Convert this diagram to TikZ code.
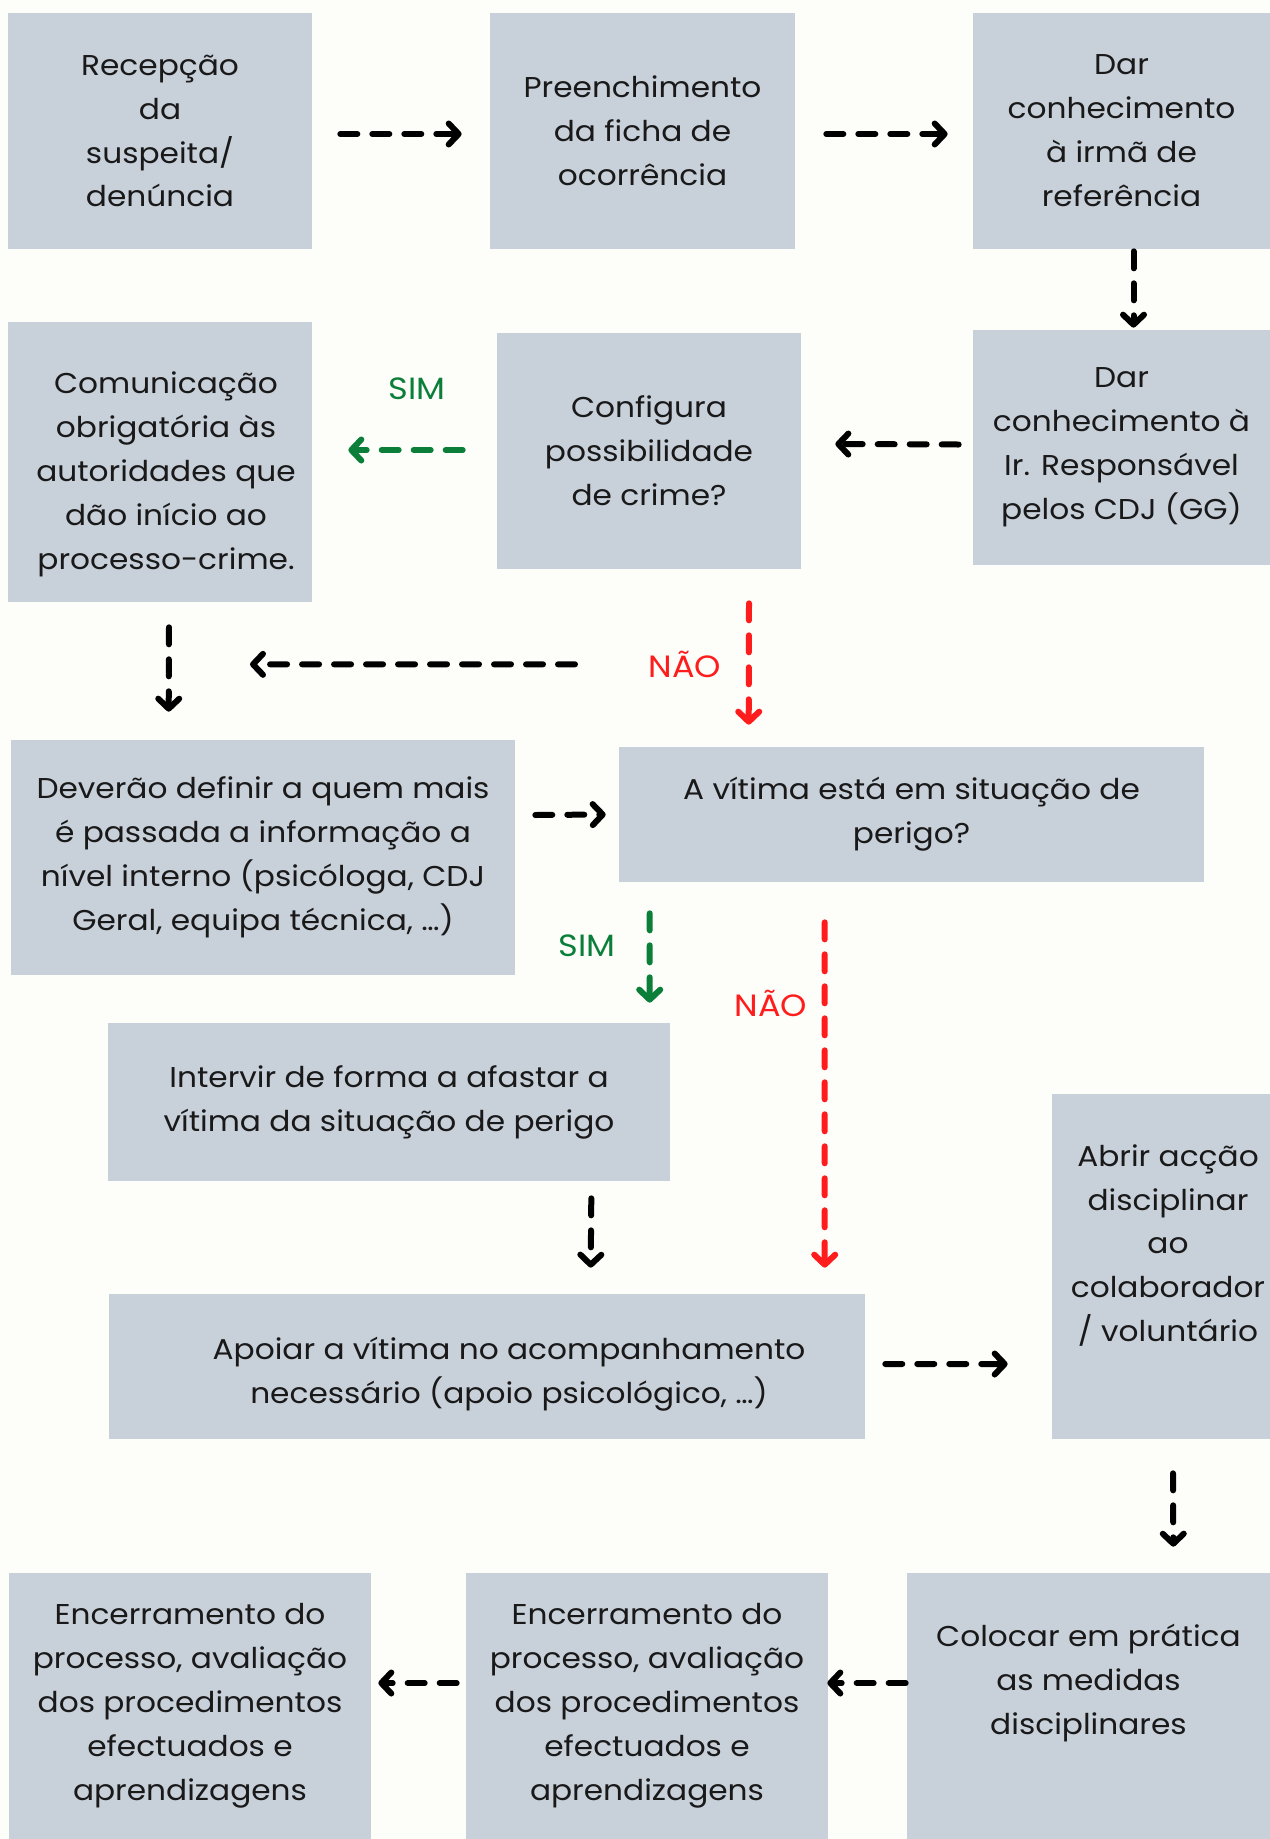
\documentclass[tikz,border=0pt]{standalone}
\usepackage{fontspec}
\setmainfont{Poppins}[FakeStretch=1.09]
\usetikzlibrary{calc}
\usetikzlibrary{arrows.meta}
\usetikzlibrary{positioning}
\definecolor{boxfill}{HTML}{C8D0DA}
\definecolor{paper}{HTML}{FDFDF9}
\definecolor{simgreen}{HTML}{0B7F3A}
\definecolor{naored}{HTML}{FF1C1C}
\tikzset{block/.style={rectangle, fill=boxfill, text=black!90, align=center, inner sep=0pt, font=\fontsize{16.3}{25}\selectfont}}
\tikzset{blocktext/.style={text=black!90, align=center, inner sep=0pt, font=\fontsize{16.3}{25}\selectfont}}
\tikzset{connect/.style={draw, line width=0.12cm, line cap=round, dash pattern=on 0.34cm off 0.3cm, >={Straight Barb[length=0.2cm, width=0.42cm, line cap=round, line join=round]}}}
\tikzset{answer/.style={font=\fontsize{17.5}{25}\selectfont, inner sep=0pt}}

\begin{document}
\begin{tikzpicture}[x=0.02cm,y=-0.02cm]
\fill[paper] (0,0) rectangle (1270,1839);
\useasboundingbox (0,0) rectangle (1270,1839);
% first row
\node[block,minimum width=6.08cm,minimum height=4.72cm] (recep) at (160,131) {Recepção\\da\\suspeita/\\denúncia};
\node[block,minimum width=6.1cm,minimum height=4.72cm] (preench) at (642.5,131) {Preenchimento\\da ficha de\\ocorrência};
\node[block,minimum width=5.94cm,minimum height=4.72cm] (darref) at (1121.5,131) {Dar\\conhecimento\\à irmã de\\referência};
% second row
\node[block,minimum width=5.94cm,minimum height=4.7cm] (dargg) at (1121.5,447.5) {Dar\\conhecimento à\\Ir. Responsável\\pelos CDJ (GG)};
\node[block,minimum width=6.08cm,minimum height=4.72cm] (config) at (649,451) {Configura\\possibilidade\\de crime?};
\node[block,minimum width=6.08cm,minimum height=5.6cm] (comun) at (160,462) {};
\node[blocktext] (comuntext) at ($(comun.center)+(6,12)$) {Comunicação\\obrigatória às\\autoridades que\\dão início ao\\processo-crime.};
% middle
\node[block,minimum width=10.08cm,minimum height=4.7cm] (deverao) at (263,857.5) {Deverão definir a quem mais\\é passada a informação a\\nível interno (psicóloga, CDJ\\Geral, equipa técnica, \ldots)};
\node[block,minimum width=11.7cm,minimum height=2.7cm] (vitima) at (911.5,814.5) {A vítima está em situação de\\perigo?};
\node[block,minimum width=11.24cm,minimum height=3.16cm] (intervir) at (389,1102) {Intervir de forma a afastar a\\vítima da situação de perigo};
\node[block,minimum width=15.12cm,minimum height=2.9cm] (apoiar) at (487,1366.5) {};
\node[blocktext] (apoiartext) at ($(apoiar.center)+(22,8)$) {Apoiar a vítima no acompanhamento\\necessário (apoio psicológico, \ldots)};
\node[block,minimum width=4.36cm,minimum height=6.9cm] (abrir) at (1161,1266.5) {};
\node[blocktext] (abrirtext) at ($(abrir.center)+(7,-21)$) {Abrir acção\\disciplinar\\ao\\colaborador\\/ voluntário};
% last row
\node[block,minimum width=7.26cm,minimum height=5.32cm] (colocar) at (1088.5,1706) {};
\node[blocktext] (colocartext) at ($(colocar.center)+(0,-23)$) {Colocar em prática\\as medidas\\disciplinares};
\node[block,minimum width=7.24cm,minimum height=5.32cm] (encmid) at (647,1706) {Encerramento do\\processo, avaliação\\dos procedimentos\\efectuados e\\aprendizagens};
\node[block,minimum width=7.24cm,minimum height=5.32cm] (encleft) at (190,1706) {Encerramento do\\processo, avaliação\\dos procedimentos\\efectuados e\\aprendizagens};

\path[connect,->] ($(recep.east)+(28,3)$) -- ($(preench.west)+(-28,3)$);
\path[connect,->] ($(preench.east)+(31,3)$) -- ($(darref.west)+(-25,3)$);
\path[connect,->] ($(darref.south)+(12,2)$) -- ($(dargg.north)+(12,-2)$);
\path[connect,->] ($(dargg.west)+(-14,-3)$) -- ($(config.east)+(34,-7)$);
\path[connect,->,simgreen] ($(config.west)+(-34,-1)$) -- ($(comun.east)+(36,-12)$)
  node[answer,midway,xshift=0.23cm,yshift=1.22cm] (simcrime) {SIM};
\path[connect,->,naored] ($(config.south)+(100,34)$) -- ($(vitima.north west)+(130,-22)$)
  node[answer,midway,xshift=-1.28cm] (naocrime) {NÃO};
\path[connect,->] ($(config.south)+(-74,95)$) -- ($(comun.south)+(90,62)$);
\path[connect,->] ($(comun.south)+(9,25)$) -- ($(deverao.north west)+(158,-28)$);
\path[connect,->] ($(deverao.east)+(20,-42.5)$) -- ($(vitima.west)+(-13,0)$);
\path[connect,->,simgreen] ($(vitima.south west)+(31,31)$) -- ($(intervir.north west)+(542,-20)$)
  node[answer,midway,xshift=-1.26cm,yshift=0.24cm] (simperigo) {SIM};
\path[connect,->,naored] ($(vitima.south west)+(206,40)$) -- ($(apoiar.north west)+(716,-26)$)
  node[answer,pos=0.234,xshift=-1.08cm] (naoperigo) {NÃO};
\path[connect,->] ($(intervir.south east)+(-79,17)$) -- ($(apoiar.north west)+(482,-26)$);
\path[connect,->] ($(apoiar.east)+(20,-2.5)$) -- ($(abrir.west)+(-44,97.5)$);
\path[connect,->] ($(abrir.south)+(12,34)$) -- ($(colocar.north east)+(-97,-26)$);
\path[connect,->] ($(colocar.west)+(-1,-23)$) -- ($(encmid.east)+(-1,-23)$);
\path[connect,->] ($(encmid.west)+(-9,-23)$) -- ($(encleft.east)+(7,-23)$);
\end{tikzpicture}
\end{document}
